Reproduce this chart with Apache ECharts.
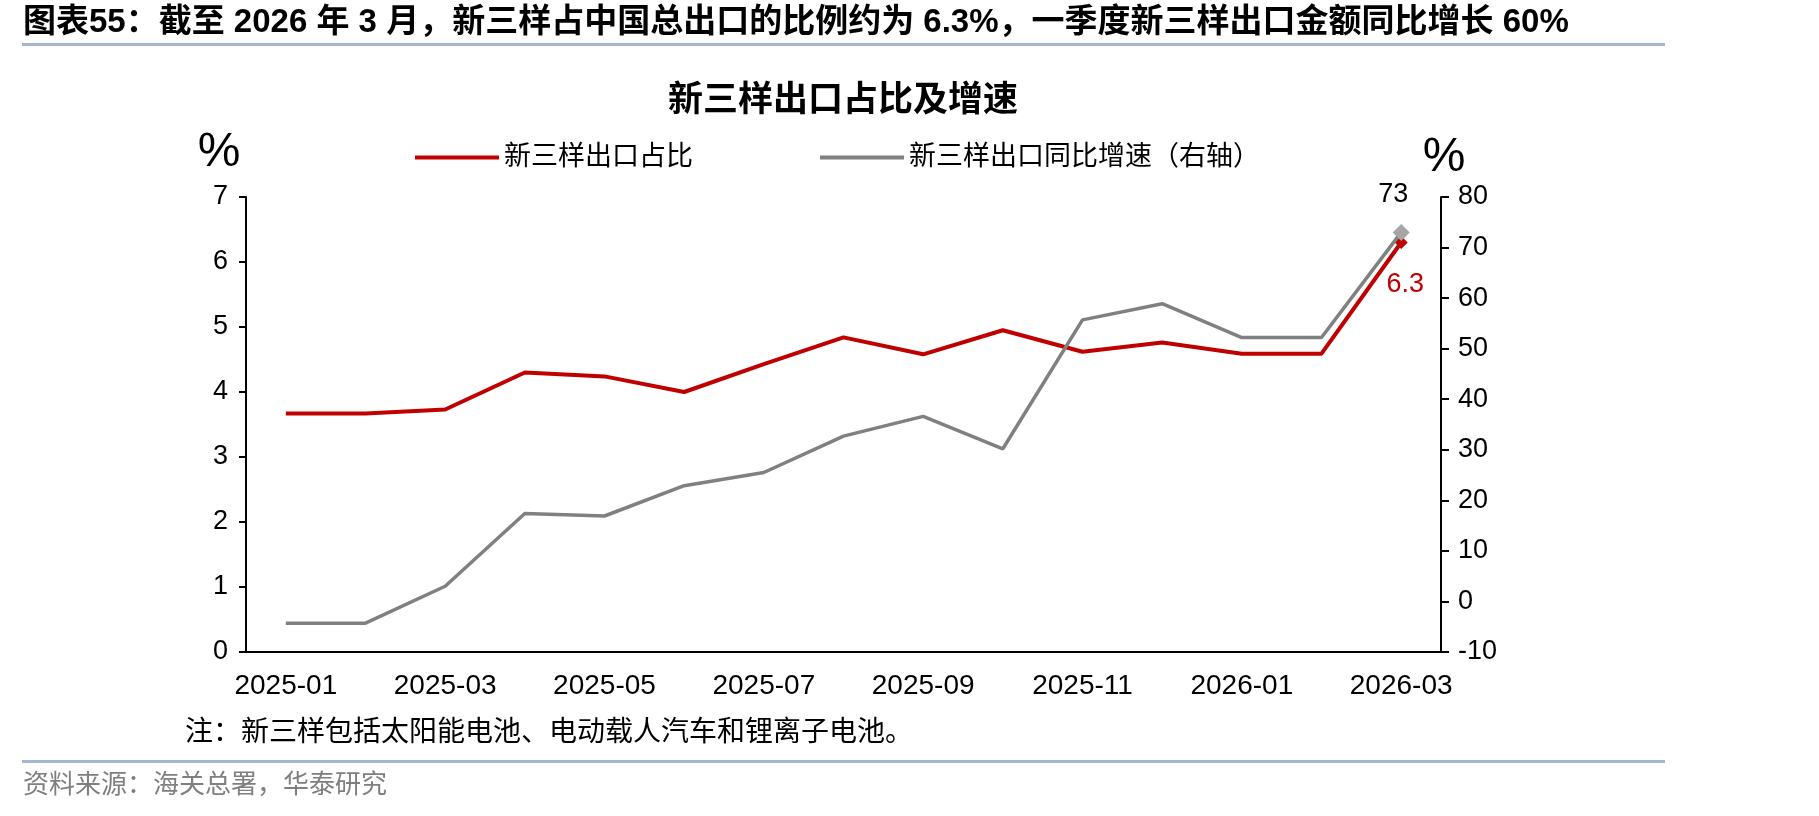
<!DOCTYPE html>
<html>
<head>
<meta charset="utf-8">
<style>
html,body{margin:0;padding:0;background:#fff;}
#chart{width:1819px;height:816px;}
</style>
<script src="https://cdn.jsdelivr.net/npm/echarts@6/dist/echarts.min.js"></script>
</head>
<body>
<div id="chart"></div>
<script>
// ---- data ----
var categories = ['2025-01','2025-02','2025-03','2025-04','2025-05','2025-06','2025-07','2025-08','2025-09','2025-10','2025-11','2025-12','2026-01','2026-02','2026-03'];
var shareValues = [3.67, 3.67, 3.73, 4.30, 4.24, 4.00, 4.43, 4.84, 4.58, 4.95, 4.62, 4.76, 4.59, 4.59, 6.3];
var growthValues = [-4.3, -4.3, 3.0, 17.4, 16.9, 22.9, 25.5, 32.7, 36.6, 30.2, 55.7, 58.9, 52.2, 52.2, 73];
var seriesNames = ['新三样出口占比', '新三样出口同比增速（右轴）'];
var headline = '图表55：截至 2026 年 3 月，新三样占中国总出口的比例约为 6.3%，一季度新三样出口金额同比增长 60%';
var chartTitle = '新三样出口占比及增速';
var noteText = '注：新三样包括太阳能电池、电动载人汽车和锂离子电池。';
var sourceText = '资料来源：海关总署，华泰研究';

var RED = '#C00000', GRAY = '#808080';
var LAT = '"Liberation Sans", Arial, "Noto Sans CJK SC", sans-serif';
var CJK = '"Liberation Sans", "Noto Sans CJK SC", sans-serif';

function lastMarked(arr, opts) {
  return arr.map(function (v, i) {
    if (i !== arr.length - 1) return v;
    return {
      value: v,
      symbol: 'diamond',
      symbolSize: opts.size,
      itemStyle: { color: opts.color },
      label: {
        show: true, position: opts.pos, distance: opts.dist,
        color: opts.labelColor, fontSize: 27, fontFamily: LAT,
        offset: opts.offset,
        formatter: String(v)
      }
    };
  });
}

var chart = echarts.init(document.getElementById('chart'));
chart.setOption({
  backgroundColor: '#fff',
  animation: false,
  grid: { left: 246, right: 378, top: 197, bottom: 164, containLabel: false },
  legend: [
    { data: [seriesNames[0]], left: 410, top: 139, icon: 'rect', itemWidth: 84, itemHeight: 4,
      textStyle: { fontSize: 27, fontFamily: CJK, color: '#000' } },
    { data: [seriesNames[1]], left: 815, top: 139, icon: 'rect', itemWidth: 84, itemHeight: 4,
      textStyle: { fontSize: 27, fontFamily: CJK, color: '#000' } }
  ],
  xAxis: {
    type: 'category',
    data: categories,
    boundaryGap: true,
    axisLine: { lineStyle: { color: '#000', width: 2 } },
    axisTick: { interval: 1, length: 8, lineStyle: { color: '#000', width: 2 } },
    axisLabel: { interval: 1, color: '#000', fontSize: 28, fontFamily: LAT, margin: 20 },
    splitLine: { show: false }
  },
  yAxis: [
    { type: 'value', min: 0, max: 7, interval: 1, position: 'left',
      axisLine: { show: true, lineStyle: { color: '#000', width: 2 } },
      axisTick: { show: true, length: 7, lineStyle: { color: '#000', width: 2 } },
      axisLabel: { color: '#000', fontSize: 27, fontFamily: LAT, margin: 18 },
      splitLine: { show: false } },
    { type: 'value', min: -10, max: 80, interval: 10, position: 'right',
      axisLine: { show: true, lineStyle: { color: '#000', width: 2 } },
      axisTick: { show: true, length: 8, lineStyle: { color: '#000', width: 2 } },
      axisLabel: { color: '#000', fontSize: 27, fontFamily: LAT, margin: 17 },
      splitLine: { show: false } }
  ],
  series: [
    { name: seriesNames[0], type: 'line', yAxisIndex: 0, symbol: 'none',
      data: lastMarked(shareValues, { size: 13, color: RED, pos: 'bottom', dist: 22, labelColor: RED, offset: [4, 0] }),
      lineStyle: { color: RED, width: 4 }, itemStyle: { color: RED }, z: 2 },
    { name: seriesNames[1], type: 'line', yAxisIndex: 1, symbol: 'none',
      data: lastMarked(growthValues, { size: 17, color: '#A6A6A6', pos: 'top', dist: 16, labelColor: '#000', offset: [-8, 0] }),
      lineStyle: { color: GRAY, width: 3.5 }, itemStyle: { color: GRAY }, z: 3 }
  ],
  graphic: [
    { type: 'text', x: 23, y: 23, style: { text: headline, font: 'bold 33px ' + CJK, fill: '#000', textVerticalAlign: 'middle' } },
    { type: 'rect', shape: { x: 22, y: 43, width: 1643, height: 3 }, style: { fill: '#A3B6CF' } },
    { type: 'text', x: 843, y: 101, style: { text: chartTitle, font: 'bold 35px ' + CJK, fill: '#000', textAlign: 'center', textVerticalAlign: 'middle' } },
    { type: 'text', x: 219, y: 153, style: { text: '%', font: '48px ' + LAT, fill: '#000', textAlign: 'center', textVerticalAlign: 'middle' } },
    { type: 'text', x: 1444, y: 158, style: { text: '%', font: '48px ' + LAT, fill: '#000', textAlign: 'center', textVerticalAlign: 'middle' } },
    { type: 'text', x: 185, y: 733, style: { text: noteText, font: '28px ' + CJK, fill: '#000', textVerticalAlign: 'middle' } },
    { type: 'rect', shape: { x: 22, y: 760, width: 1643, height: 3 }, style: { fill: '#A3B6CF' } },
    { type: 'text', x: 23, y: 786, style: { text: sourceText, font: '26px ' + CJK, fill: '#7F7F7F', textVerticalAlign: 'middle' } }
  ]
});
</script>
</body>
</html>
